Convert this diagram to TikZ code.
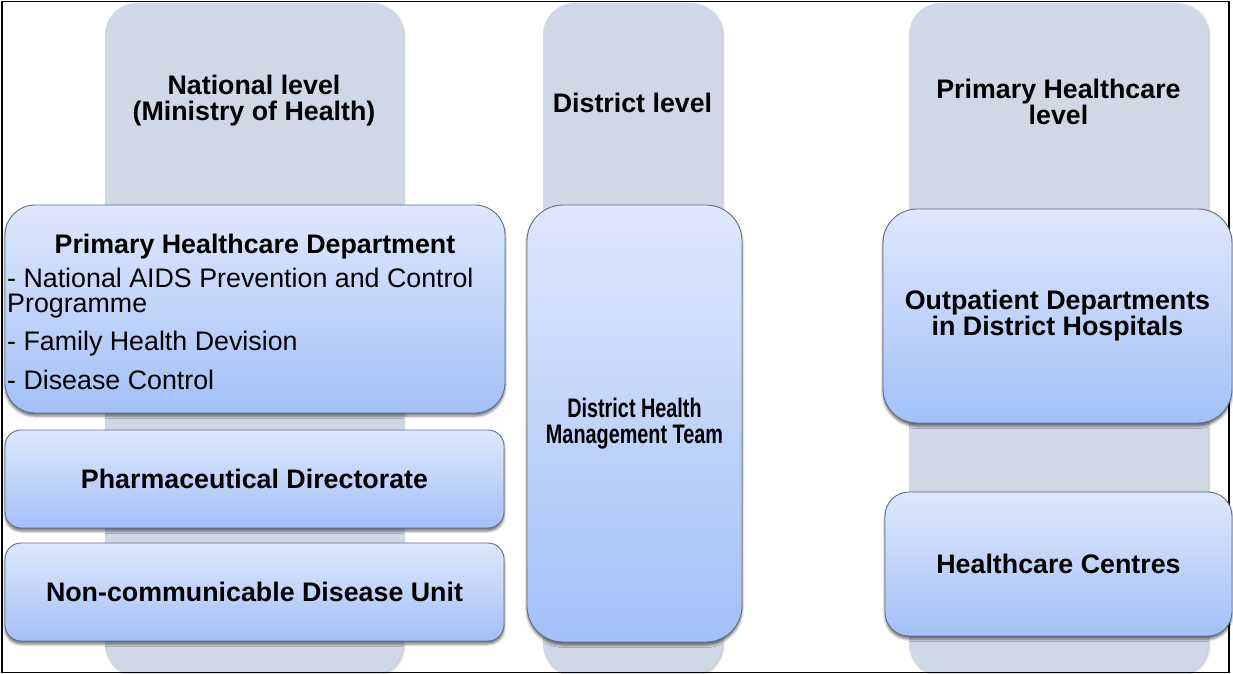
\documentclass[tikz,border=0pt]{standalone}
\usepackage{fontspec}
\setmainfont{Liberation Sans}
\usetikzlibrary{shadows.blur}
\definecolor{colgray}{HTML}{D0D7E5}
\definecolor{boxtop}{HTML}{DEE8FC}
\definecolor{boxbot}{HTML}{A3C0F8}
\definecolor{boxline}{HTML}{5F6E88}
\newcommand{\cnd}[1]{\scalebox{0.74}[1]{#1}}
\tikzset{
  column/.style={fill=colgray, draw=none, inner sep=0pt, rounded corners=32pt,
    blur shadow={shadow xshift=1.5pt, shadow yshift=-1pt, shadow blur radius=2pt, shadow opacity=25}},
  bluebox/.style={draw=boxline, line width=0.9pt, top color=boxtop, bottom color=boxbot,
    inner sep=0pt, align=center, font=\bfseries\fontsize{26.8}{26}\selectfont,
    blur shadow={shadow xshift=0pt, shadow yshift=-3pt, shadow blur radius=2.5pt, shadow opacity=55}},
  head/.style={font=\bfseries\fontsize{26.8}{26}\selectfont, align=center, inner sep=0pt},
  item/.style={font=\fontsize{26.8}{26}\selectfont, inner sep=0pt, anchor=base west},
}
\begin{document}
\begin{tikzpicture}[x=1pt,y=-1pt]
\useasboundingbox (0,0) rectangle (1233,674);
% level columns
\node[column, minimum width=298pt, minimum height=673pt] (col1) at (254,339.5) {};
\node[column, minimum width=179pt, minimum height=673pt] (col2) at (632.5,339.5) {};
\node[column, minimum width=299pt, minimum height=673pt] (col3) at (1058.5,339.5) {};
% frame
\draw[line width=1.5pt] (2,1.5) rectangle (1229,672.5);
% headers
\node[head] (natl) at (254,101) {National level\\(Ministry of Health)};
\node[head] (dist) at (632.5,102.5) {District level};
\node[head] (phcl) at (1058.5,102) {Primary Healthcare\\level};
% boxes
\node[bluebox, rounded corners=30pt, minimum width=500pt, minimum height=208pt] (phd) at (255,309) {};
\node[head, anchor=base] (phdt) at (255,253) {Primary Healthcare Department};
\node[item] (it1) at (7,287) {- National AIDS Prevention and Control};
\node[item] (it2) at (7,312) {Programme};
\node[item] (it3) at (7,350) {- Family Health Devision};
\node[item] (it4) at (7,389) {- Disease Control};
\node[bluebox, rounded corners=16pt, minimum width=499pt, minimum height=98pt] (pharm) at (254.5,479) {Pharmaceutical Directorate};
\node[bluebox, rounded corners=16pt, minimum width=499pt, minimum height=98pt] (ncd) at (254.5,592) {Non-communicable Disease Unit};
\node[bluebox, rounded corners=36pt, minimum width=215pt, minimum height=437pt] (dhmt) at (634.5,423.5) {\cnd{District Health}\\\cnd{Management Team}};
\node[bluebox, rounded corners=34pt, minimum width=349pt, minimum height=214pt] (opd) at (1057.5,316) {Outpatient Departments\\in District Hospitals};
\node[bluebox, rounded corners=24pt, minimum width=347pt, minimum height=144pt] (hc) at (1058.5,564) {Healthcare Centres};
\end{tikzpicture}
\end{document}
